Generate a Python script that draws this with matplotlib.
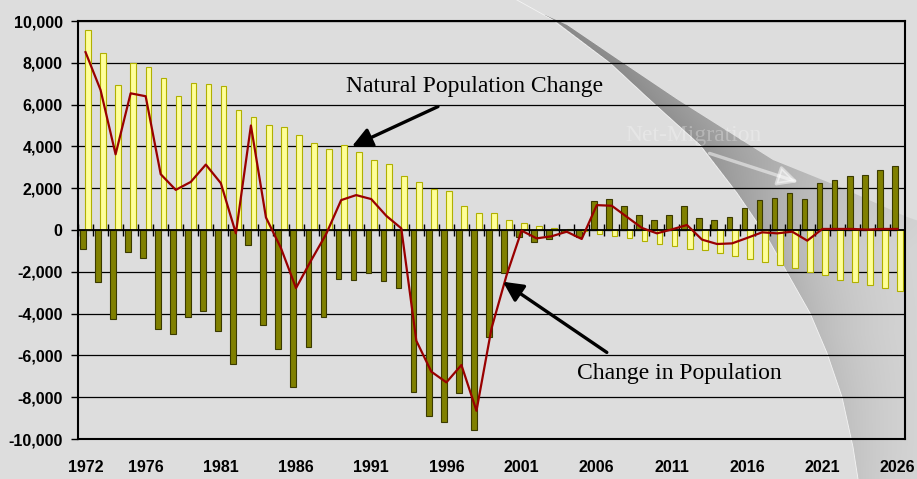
import numpy as np
import matplotlib
matplotlib.use("Agg")
import matplotlib.pyplot as plt
from matplotlib.ticker import FuncFormatter

# ---------------- data ----------------
years = list(range(1972, 2027))
natural = [9550, 8480, 6950, 7980, 7780, 7250, 6400, 7030, 6970, 6890,
           5760, 5410, 5020, 4940, 4540, 4140, 3890, 4060, 3710, 3370,
           3140, 2560, 2300, 1950, 1860, 1130, 790, 790, 490, 330,
           210, 100, 50, -40, -200, -290, -400, -540, -660, -760,
           -900, -980, -1100, -1240, -1400, -1540, -1670, -1830, -2020, -2160,
           -2370, -2510, -2650, -2780, -2940]
migration = [-920, -2510, -4250, -1050, -1320, -4730, -4970, -4160, -3870, -4840,
             -6410, -700, -4560, -5680, -7520, -5620, -4160, -2350, -2400, -2050,
             -2440, -2780, -7730, -8920, -9180, -7810, -9560, -5110, -2050, -350,
             -590, -430, -110, -350, 1380, 1460, 1130, 710, 490, 740,
             1130, 560, 460, 640, 1030, 1430, 1520, 1760, 1460, 2270,
             2410, 2560, 2650, 2890, 3050]
change = [8510, 6700, 3620, 6540, 6400, 2670, 1920, 2300, 3130, 2240,
          -160, 5000, 600, -870, -2780, -1460, -200, 1430, 1670, 1480,
          680, 80, -5300, -6780, -7290, -6460, -8650, -4710, -2170, -30,
          -400, -300, -80, -430, 1190, 1160, 630, 100, -160, 30,
          240, -460, -670, -640, -380, -110, -160, -80, -510, 50,
          50, 50, 20, 50, 50]
tick_years = [1972, 1976, 1981, 1986, 1991, 1996, 2001, 2006, 2011, 2016, 2021, 2026]
y_ticks = list(range(-10000, 10001, 2000))

# ---------------- figure ----------------
W, H = 917, 479
fig = plt.figure(figsize=(W / 100, H / 100), dpi=100)
BG = 221
fig.patch.set_facecolor((BG / 255,) * 3)

# decorative swoosh background
yy, xx = np.mgrid[0:H, 0:W] + 0.5
cy = np.array([0, 20, 63, 100, 145, 193, 237, 313, 353, 397, 447, 479], float)
cx = np.array([517, 553, 610, 650, 700, 737, 767, 810, 827, 842, 853, 858], float)
ux = np.array([545, 567, 623, 678, 773, 840, 907, 940], float)
uy = np.array([15, 25, 63, 100, 160, 187, 217, 228], float)
xc = np.interp(yy, cy, cx)
yu = np.interp(xx, ux, uy)
slope = np.interp(yy, cy, np.gradient(cx, cy))
dist = xx - xc
a_in = np.clip(dist + 0.5, 0, 1) * np.clip(yy - yu + 0.5, 0, 1)
D0 = np.interp(yy, [0, 63, 160, 200, 240, 333, 479], [85, 83, 70, 60, 50, 34, 24])
L = np.interp(yy, [0, 160, 250, 479], [200, 150, 80, 60])
dark = D0 * np.exp(-np.clip(dist, 0, None) / L)
gray = BG - dark * a_in
perp = dist / np.sqrt(1 + slope ** 2)
li = np.clip(1 - np.abs(perp) / 0.9, 0, 1) * 0.85
gray = gray * (1 - li) + 246 * li
img = np.dstack([gray, gray, gray]) / 255.0

bg = fig.add_axes([0, 0, 1, 1], zorder=0)
bg.imshow(img, extent=(0, W, H, 0), aspect="auto", interpolation="bilinear")
bg.set_xlim(0, W)
bg.set_ylim(H, 0)
bg.axis("off")

ax = fig.add_axes([78 / W, 40 / H, 827 / W, 418 / H], zorder=1)
ax.set_facecolor("none")

x = np.arange(len(years))
ax.bar(x - 0.18, migration, width=0.38, color="#808000", edgecolor="#3a3a00",
       linewidth=0.8, zorder=2)
ax.bar(x + 0.18, natural, width=0.38, color="#ffff99", edgecolor="#b0b000",
       linewidth=0.8, zorder=2)
ax.plot(x, change, color="#990000", linewidth=1.6, zorder=4)

# zero line with category tick marks
ax.axhline(0, color="black", linewidth=1.3, zorder=3)
ax.vlines(np.arange(len(years) + 1) - 0.5, -280, 280, color="black",
          linewidth=1.0, zorder=3)

ax.set_xlim(-0.5, len(years) - 0.5)
ax.set_ylim(-10000, 10000)
ax.set_yticks(y_ticks)
ax.yaxis.set_major_formatter(FuncFormatter(lambda v, p: f"{int(v):,}"))
ax.set_xticks([years.index(t) for t in tick_years])
ax.set_xticklabels([str(t) for t in tick_years])
ax.yaxis.grid(True, color="black", linewidth=0.9)
ax.set_axisbelow(True)
for s in ax.spines.values():
    s.set_linewidth(1.5)
    s.set_color("black")
ax.tick_params(axis="y", length=5, width=1, direction="out", pad=6)
ax.tick_params(axis="x", length=0, pad=15)
for lab in ax.get_xticklabels() + ax.get_yticklabels():
    lab.set_fontfamily("Liberation Sans")
    lab.set_fontweight("bold")
    lab.set_fontsize(11.5)

# annotations
serif = dict(family="Liberation Serif", fontsize=17)
ax.text(25.9, 6860, "Natural Population Change", ha="center", va="center",
        zorder=6, **serif)
ax.annotate("", xy=(17.72, 4000), xytext=(23.44, 5905),
            arrowprops=dict(arrowstyle="-|>,head_length=0.6,head_width=0.3",
                            mutation_scale=20, lw=2.4, color="black",
                            shrinkA=0, shrinkB=0), zorder=6)
ax.text(39.5, -6860, "Change in Population", ha="center", va="center",
        zorder=6, **serif)
ax.annotate("", xy=(27.76, -2476), xytext=(34.67, -5857),
            arrowprops=dict(arrowstyle="-|>,head_length=0.6,head_width=0.3",
                            mutation_scale=20, lw=2.4, color="black",
                            shrinkA=0, shrinkB=0), zorder=6)
ax.text(40.46, 4524, "Net-Migration", ha="center", va="center", color="white",
        alpha=0.28, zorder=6, **serif)
ax.annotate("", xy=(47.4, 2290), xytext=(41.5, 3667),
            arrowprops=dict(arrowstyle="-|>,head_length=0.6,head_width=0.3",
                            mutation_scale=20, lw=2.4, color="white", alpha=0.5,
                            shrinkA=0, shrinkB=0), zorder=6)

fig.savefig("out.png", dpi=100, facecolor=fig.get_facecolor())
